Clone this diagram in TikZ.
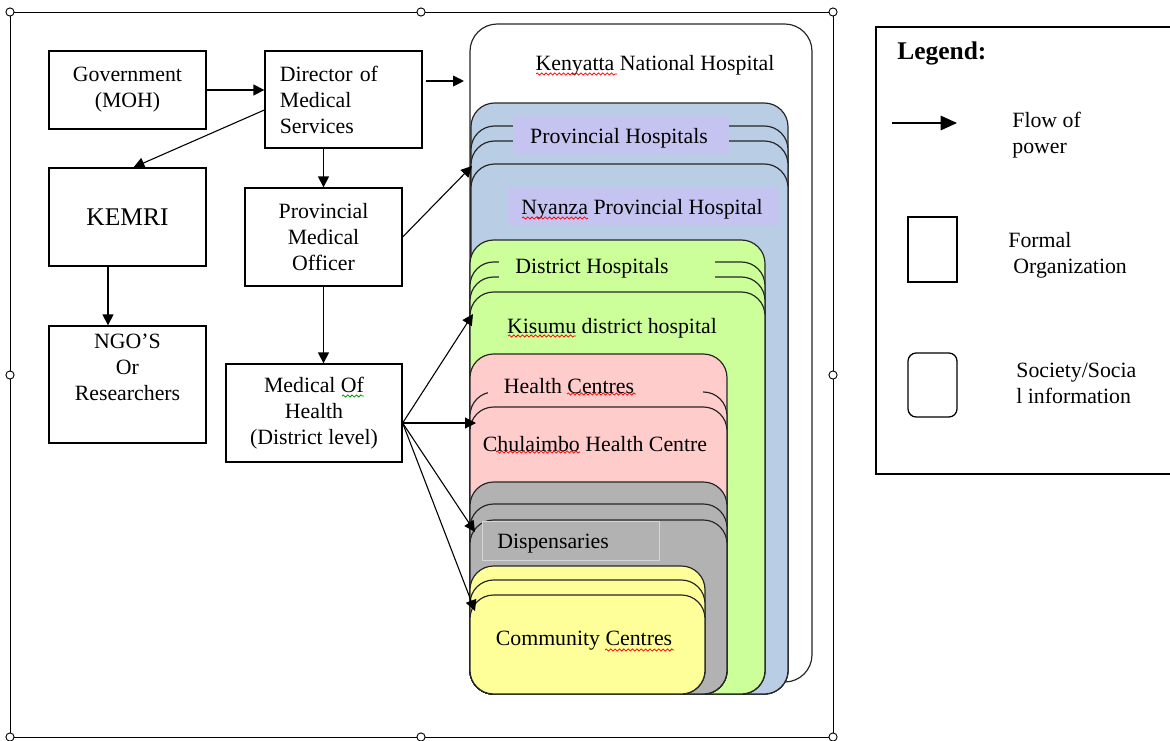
\documentclass[tikz,border=0pt]{standalone}
\usepackage{fontspec}
\setmainfont{Liberation Serif}
\usetikzlibrary{arrows.meta,fit,calc,decorations.pathmorphing}

\definecolor{provblue}{RGB}{185,205,229}
\definecolor{tagblue}{RGB}{197,196,240}
\definecolor{distgreen}{RGB}{204,255,153}
\definecolor{hcpink}{RGB}{255,204,204}
\definecolor{dispgray}{RGB}{178,178,178}
\definecolor{commyellow}{RGB}{255,255,153}

\tikzset{
  orgbox/.style={draw, line width=0.7pt, inner sep=0pt, align=center, minimum width=86.35pt},
  panel/.style={draw=black!85, line width=0.65pt, rounded corners=13pt, inner sep=0pt},
  flow/.style={-{Triangle[length=6pt,width=6pt]}, line width=0.6pt},
  spell/.style={red, line width=0.4pt, decorate, decoration={snake, amplitude=0.6pt, segment length=2.4pt}},
  grip/.style={circle, draw, fill=white, inner sep=0pt, minimum size=4.5pt, line width=0.5pt}
}

\begin{document}
\begin{tikzpicture}[x=0.55pt, y=-0.55pt, font=\fontsize{12}{14.3}\selectfont]
  \useasboundingbox (0,0) rectangle (1170,741);

  % outer frame and its grips
  \draw[line width=0.5pt] (10,12) rectangle (833,737);
  \foreach \gx/\gy in {10/12, 421/12, 833/12, 10/375, 833/375, 10/737, 421/737, 833/737}
    \node[grip] (grip-\gx-\gy) at (\gx,\gy) {};

  % ministry side
  \node[orgbox, minimum height=42.9pt] (gov) at (127.5,90) {Government\\(MOH)};
  \node[orgbox, minimum height=53.35pt, text width=70pt, align=left] (dir) at (343.5,99.5) {Director of\\Medical\\Services};
  \node[orgbox, minimum height=53.9pt, font=\fontsize{14}{17}\selectfont] (kemri) at (127.5,217) {KEMRI};
  \node[orgbox, minimum height=53.9pt] (pmo) at (323.5,237) {Provincial\\Medical\\Officer};
  \node[orgbox, minimum height=64.35pt] (ngo) at (127.5,384.5) {NGO'S\\Or\\Researchers\\\strut};
  \node[orgbox, minimum height=53.9pt, minimum width=96.8pt] (moh) at (314,413) {Medical Of\\Health\\(District level)};

  % Kenyatta
  \node[panel, fill=white, rounded corners=15pt, fit={(470,24) (812,682)}] (knh) {};
  \node (knhname) at (655,65) {Kenyatta National Hospital};

  % provincial level
  \foreach \ty [count=\i] in {103,126,141}
    \node[panel, fill=provblue, fit={(471,\ty) (788,694)}] (prov\i) {};
  \node[panel, fill=provblue, fit={(471,164) (788,694)}] (nyanza) {};
  \node[fill=tagblue, inner sep=0pt, minimum width=118.8pt, minimum height=20.9pt] (provtag) at (621,135) {};
  \node (provname) at (619,138) {Provincial Hospitals};
  \node[fill=tagblue, inner sep=0pt, minimum width=150.15pt, minimum height=21.45pt] (nyanzatag) at (643.5,206.5) {};
  \node (nyanzaname) at (642,209) {Nyanza Provincial Hospital};

  % district level
  \foreach \ty [count=\i] in {240,262,277}
    \node[panel, fill=distgreen, fit={(470,\ty) (765,694)}] (dist\i) {};
  \node[panel, fill=distgreen, fit={(470,292) (765,694)}] (kisumu) {};
  \fill[distgreen] (499,252) rectangle (715,284);
  \node (distname) at (592,268) {District Hospitals};
  \node (kisumuname) at (612,328) {Kisumu district hospital};

  % health centres
  \foreach \ty [count=\i] in {354,392}
    \node[panel, fill=hcpink, fit={(470,\ty) (727,694)}] (hc\i) {};
  \node[panel, fill=hcpink, fit={(470,407) (727,694)}] (chulaimbo) {};
  \fill[hcpink] (488,368) rectangle (703,401);
  \node (hcname) at (569,386) {Health Centres};
  \node (chulname) at (595,444) {Chulaimbo Health Centre};

  % dispensaries
  \foreach \ty [count=\i] in {482,504,520}
    \node[panel, fill=dispgray, fit={(470,\ty) (727,694)}] (disp\i) {};
  \node[fill=dispgray, draw=white!45!dispgray, line width=0.4pt, inner sep=0pt, fit={(482,521) (659,560)}] (disptag) {};
  \node (dispname) at (553,544) {Dispensaries};

  % community
  \foreach \ty [count=\i] in {566,580,595}
    \node[panel, fill=commyellow, fit={(470,\ty) (705,694)}] (comm\i) {};
  \node (commname) at (584,641) {Community Centres};

  % spelling marks
  \draw[spell] (536,74) -- (617,74);
  \draw[spell] (522,218) -- (588,218);
  \draw[spell] (508,336) -- (576,336);
  \draw[spell] (567,394) -- (636,394);
  \draw[spell] (496,452) -- (580,452);
  \draw[spell] (605,650) -- (674,650);
  \draw[spell, green!55!black] (342,396) -- (364,396);

  % flow of power
  \coordinate (dirout) at ($(dir.east)+(3,-18.5)$);
  \coordinate (kemriout) at ($(kemri.south)+(-19.5,0)$);
  \coordinate (mohout) at ($(moh.east)+(0,10)$);
  \coordinate (provin) at (472,166);
  \coordinate (kisumuin) at (473,314);
  \coordinate (chulin) at (476,423);
  \coordinate (dispin) at (475,532);
  \coordinate (commin) at (475,611);
  \draw[flow] (gov.east) -- (gov.east -| dir.west);
  \draw[flow, shorten >=3pt] (dirout) -- (dirout -| knh.west);
  \draw[flow] ($(dir.west)+(0,10.5)$) -- ($(kemri.north)+(6,0)$);
  \draw[flow] (pmo.north |- dir.south) -- (pmo.north);
  \draw[flow] (kemriout) -- (kemriout |- ngo.north);
  \draw[flow] (pmo.south) -- (pmo.south |- moh.north);
  \draw[flow] (pmo.east) -- (provin);
  \foreach \tgt in {kisumuin, chulin, dispin, commin}
    \draw[flow] (mohout) -- (\tgt);

  % legend
  \draw[line width=0.75pt] (1172,27) -- (876,27) -- (876,474) -- (1172,474);
  \node[anchor=west, inner sep=0pt, font=\bfseries\fontsize{14}{17}\selectfont] (legtitle) at (897,53) {Legend:};
  \coordinate (legfrom) at (892,123);
  \coordinate (legto) at (957,123);
  \draw[-{Triangle[length=9pt,width=8pt]}, line width=0.7pt] (legfrom) -- (legto);
  \node[anchor=west, inner sep=0pt, align=left] (legflow) at (1012,135) {Flow of\\power};
  \node[draw, line width=0.7pt, inner sep=0pt, fit={(908,217) (957,282)}] (legformal) {};
  \node[anchor=west, inner sep=0pt, align=left] (legformaltext) at (1008,255) {Formal\\\hspace*{2.75pt}Organization};
  \node[draw, line width=0.7pt, rounded corners=4.5pt, inner sep=0pt, fit={(908,353) (957,417)}] (legsocial) {};
  \node[anchor=west, inner sep=0pt, align=left] (legsocialtext) at (1016,383) {Society/Socia\\l information};
\end{tikzpicture}
\end{document}
